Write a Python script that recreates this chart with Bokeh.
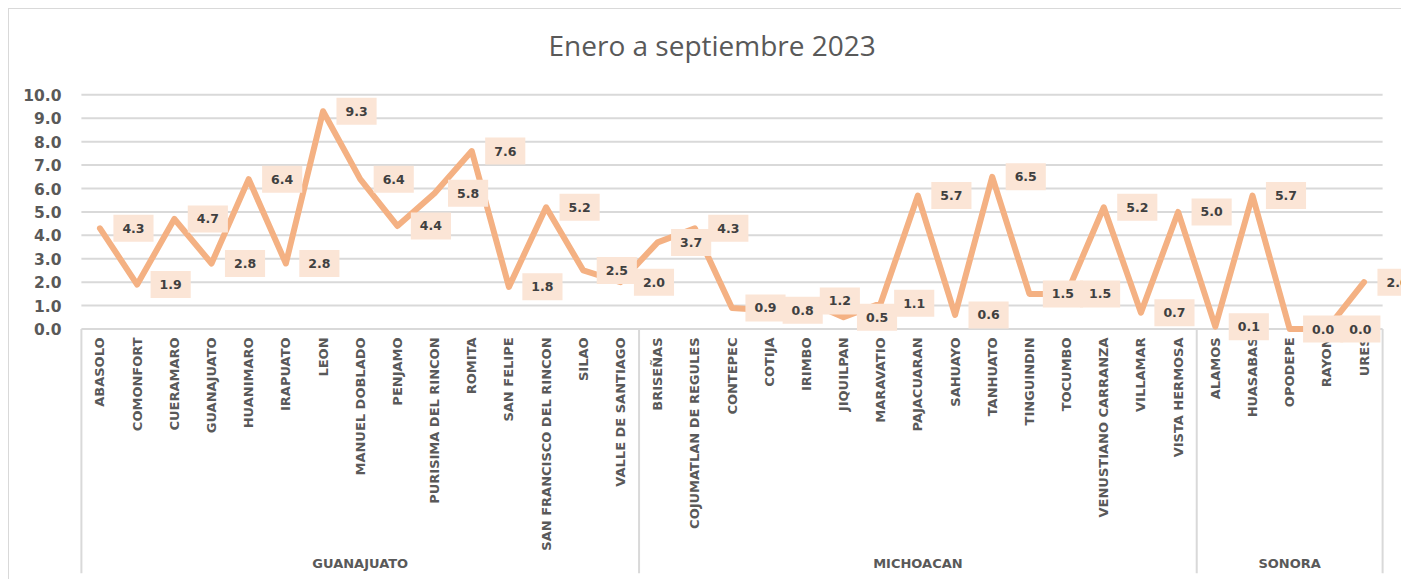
import math
from bokeh.plotting import figure
from bokeh.models import (ColumnDataSource, FactorRange, Range1d, FixedTicker,
                          NumeralTickFormatter, Text)
from bokeh.core.properties import value
from bokeh.embed import file_html
from bokeh.resources import INLINE

# ---------------- data ----------------
TITLE = "Enero a septiembre 2023"
states = ["GUANAJUATO", "MICHOACAN", "SONORA"]
guanajuato_munis = ["ABASOLO", "COMONFORT", "CUERAMARO", "GUANAJUATO", "HUANIMARO",
                    "IRAPUATO", "LEON", "MANUEL DOBLADO", "PENJAMO", "PURISIMA DEL RINCON",
                    "ROMITA", "SAN FELIPE", "SAN FRANCISCO DEL RINCON", "SILAO",
                    "VALLE DE SANTIAGO"]
guanajuato_vals = [4.3, 1.9, 4.7, 2.8, 6.4, 2.8, 9.3, 6.4, 4.4, 5.8, 7.6, 1.8, 5.2, 2.5, 2.0]
michoacan_munis = ["BRISEÑAS", "COJUMATLAN DE REGULES", "CONTEPEC", "COTIJA", "IRIMBO",
                   "JIQUILPAN", "MARAVATIO", "PAJACUARAN", "SAHUAYO", "TANHUATO",
                   "TINGUINDIN", "TOCUMBO", "VENUSTIANO CARRANZA", "VILLAMAR",
                   "VISTA HERMOSA"]
michoacan_vals = [3.7, 4.3, 0.9, 0.8, 1.2, 0.5, 1.1, 5.7, 0.6, 6.5, 1.5, 1.5, 5.2, 0.7, 5.0]
sonora_munis = ["ALAMOS", "HUASABAS", "OPODEPE", "RAYON", "URES"]
sonora_vals = [0.1, 5.7, 0.0, 0.0, 2.0]
y_ticks = [0, 1, 2, 3, 4, 5, 6, 7, 8, 9, 10]

# ---------------- styling ----------------
TITLE_FONT = "Open Sans"
FONT = "DejaVu Sans"
LINE_COLOR = "#F4B183"
BOX_COLOR = "#FBE5D6"
GRID_COLOR = "#D9D9D9"
AXIS_TEXT = "#595959"
LABEL_TEXT = "#404040"

Y_MIN, Y_MAX = -10.44, 11.04
CAT_Y = -0.36
GROUP_Y = -10.0

groups = [guanajuato_munis, michoacan_munis, sonora_munis]
group_vals = [guanajuato_vals, michoacan_vals, sonora_vals]

factors, vals = [], []
for st, munis, vs in zip(states, groups, group_vals):
    for m, v in zip(munis, vs):
        factors.append((st, m))
        vals.append(v)

src = ColumnDataSource(dict(
    x=factors, y=vals,
    label=[f"{v:.1f}" for v in vals],
    cat=[m for _, m in factors],
    cy=[CAT_Y] * len(factors),
))

bounds = [0]
for munis in groups:
    bounds.append(bounds[-1] + len(munis))
n_cats = bounds[-1]

x_range = FactorRange(factors=factors, factor_padding=0, group_padding=0,
                      subgroup_padding=0, range_padding=0.535,
                      range_padding_units="absolute")
y_range = Range1d(Y_MIN, Y_MAX)

p = figure(width=1393, height=571, x_range=x_range, y_range=y_range,
           output_backend="svg", toolbar_location=None, x_axis_location=None,
           min_border_left=52, min_border_right=0, min_border_top=61,
           min_border_bottom=7, outline_line_color=None, title=TITLE)
p.styles = {"margin-left": "8px", "margin-top": "8px",
            "border-left": "1px solid #D9D9D9", "border-top": "1px solid #D9D9D9"}

# no automatic grids
for g in p.grid:
    g.visible = False
p.xgrid.visible = False
p.ygrid.visible = False

# title
p.title.text_font = TITLE_FONT
p.title.text_font_size = "28px"
p.title.text_font_style = "normal"
p.title.text_color = AXIS_TEXT
p.title.align = "left"
p.title.offset = 487
p.title.standoff = 14

# y axis
p.yaxis.ticker = FixedTicker(ticks=y_ticks)
p.yaxis.formatter = NumeralTickFormatter(format="0.0")
p.yaxis.axis_line_color = None
p.yaxis.major_tick_line_color = None
p.yaxis.minor_tick_line_color = None
p.yaxis.major_tick_out = 0
p.yaxis.major_tick_in = 0
p.yaxis.major_label_standoff = 0
p.yaxis.major_label_text_font = FONT
p.yaxis.major_label_text_font_size = "15.5px"
p.yaxis.major_label_text_font_style = "bold"
p.yaxis.major_label_text_color = AXIS_TEXT

# horizontal gridlines limited to the category span
p.segment(x0=[0] * len(y_ticks), x1=[n_cats] * len(y_ticks), y0=y_ticks, y1=y_ticks,
          line_color=GRID_COLOR, line_width=2)

# group separators
p.segment(x0=bounds, x1=bounds, y0=[0] * len(bounds), y1=[Y_MIN] * len(bounds),
          line_color=GRID_COLOR, line_width=2)

# category labels (vertical)
p.text(x="x", y="cy", text="cat", source=src, angle=math.pi / 2,
       text_align="right", text_baseline="middle", text_font=value(FONT),
       text_font_style="bold", text_font_size="13px", text_color=AXIS_TEXT)

# group labels
p.text(x=states, y=[GROUP_Y] * len(states), text=states, text_align="center",
       text_baseline="middle", text_font=value(FONT), text_font_style="bold",
       text_font_size="13px", text_color=AXIS_TEXT)

# series line
p.line(x="x", y="y", source=src, line_color=LINE_COLOR, line_width=6,
       line_join="round", line_cap="round")

# data labels with boxes
props = Text.properties()
lbl_kwargs = dict(x="x", y="y", text="label", source=src, x_offset=33.5,
                  text_align="center", text_baseline="middle", text_font=value(FONT),
                  text_font_style="bold", text_font_size="12.5px", text_color=LABEL_TEXT)
if "background_fill_color" in props and "padding" in props:
    lbl_kwargs.update(background_fill_color=BOX_COLOR, padding=(9, 9))
else:
    src.data["bx"] = [(st, m, 0.9) for st, m in factors]
    p.rect(x="bx", y="y", source=src, width=36, height=24, width_units="screen",
           height_units="screen", fill_color=BOX_COLOR, line_color=None)
p.text(**lbl_kwargs)

open("out.html", "w").write(file_html(p, INLINE))
